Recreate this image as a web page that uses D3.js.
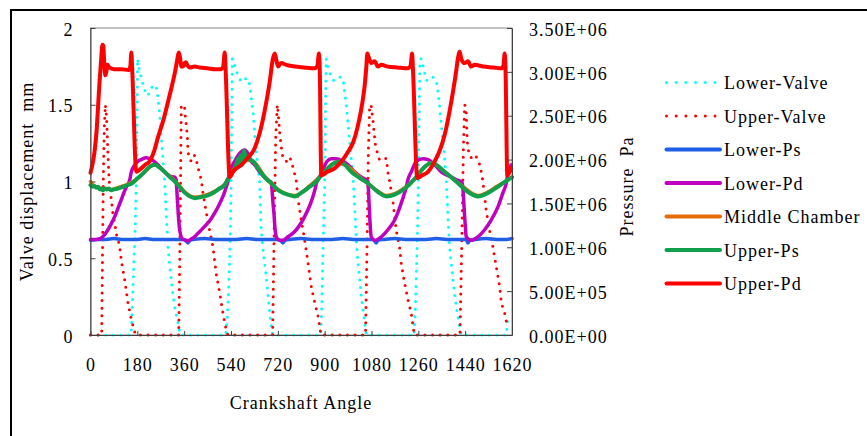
<!DOCTYPE html>
<head>
  <meta charset="utf-8">
  <script src="https://d3js.org/d3.v7.min.js"></script>
  <style>
    body { margin:0; background:#fff; }
    svg text { font-family: "Liberation Serif", "Times New Roman", serif; font-size: 18px; letter-spacing: 1px; fill: #000; }
  </style>
</head>
<body>
<script>
// axis ticks
const xTicks = [0, 180, 360, 540, 720, 900, 1080, 1260, 1440, 1620];
const yLeftTicks = [0, 0.5, 1, 1.5, 2];
const yRightTicks = [0, 5e5, 1e6, 1.5e6, 2e6, 2.5e6, 3e6, 3.5e6];

// valve displacement, mm  [crank angle, value]
const lowerValve = [
  [0,0],[156,0],[160,0.15],[165,0.4],[170,0.62],[174,0.85],[177,1.05],[179,1.45],[181,1.8],[186,1.74],[192,1.7],[202,1.63],[212,1.58],[221,1.56],[234,1.61],[247,1.63],[256,1.6],[262,1.5],[267,1.42],[271,1.32],[275,1.22],[279,1.13],[285,1.0],[291,0.79],[298,0.57],[304,0.46],[310,0.36],[317,0.26],[324,0.18],[336,0.08],[345,0],
  [520,0],[526,0.12],[531,0.3],[535,0.5],[539,0.8],[542,1.3],[545,1.8],[554,1.76],[560,1.72],[570,1.68],[580,1.65],[593,1.67],[605,1.67],[612,1.63],[618,1.54],[625,1.45],[631,1.32],[637,1.19],[644,1.09],[650,1.0],[656,0.68],[662,0.57],[669,0.47],[682,0.27],[689,0.14],[695,0.05],[700,0],
  [885,0],[889,0.2],[892,0.45],[895,0.65],[898,0.85],[901,1.05],[903,1.5],[906,1.8],[913,1.74],[919,1.71],[932,1.66],[945,1.66],[958,1.68],[970,1.67],[977,1.58],[983,1.5],[990,1.37],[996,1.26],[1002,1.15],[1009,1.03],[1015,0.84],[1021,0.64],[1028,0.47],[1041,0.25],[1054,0.08],[1060,0],
  [1244,0],[1248,0.15],[1252,0.38],[1256,0.62],[1259,0.9],[1262,1.3],[1266,1.79],[1271,1.8],[1278,1.75],[1291,1.66],[1304,1.66],[1316,1.68],[1329,1.66],[1336,1.58],[1342,1.48],[1348,1.37],[1355,1.26],[1361,1.15],[1367,1.03],[1373,0.8],[1380,0.57],[1393,0.36],[1406,0.18],[1419,0.05],[1424,0],
  [1598,0],[1601,0.05],[1604,0.13]
];
const upperValve = [
  [0,0],[43,0],[46,0.5],[49,1.0],[53,1.35],[57,1.5],[60,1.45],[63,1.37],[66,1.22],[69,1.1],[72,1.0],[76,0.93],[81,0.87],[86,0.79],[93,0.73],[99,0.66],[112,0.58],[118,0.49],[131,0.36],[144,0.21],[157,0.1],[170,0.02],[176,0],
  [339,0],[343,0.5],[346,1.0],[349,1.5],[358,1.49],[362,1.48],[364,1.43],[368,1.37],[372,1.3],[375,1.19],[381,1.15],[387,1.13],[394,1.15],[400,1.17],[407,1.14],[413,1.09],[426,1.01],[432,0.93],[439,0.86],[452,0.73],[471,0.57],[483,0.4],[497,0.27],[509,0.14],[522,0.03],[528,0],
  [700,0],[706,0.7],[712,1.3],[718,1.5],[720,1.47],[724,1.39],[727,1.32],[732,1.24],[739,1.16],[752,1.13],[765,1.16],[772,1.13],[782,1.07],[791,1.0],[798,0.88],[810,0.75],[823,0.62],[836,0.47],[849,0.31],[862,0.21],[875,0.12],[881,0.05],[886,0],
  [1057,0],[1063,0.6],[1068,1.2],[1073,1.5],[1079,1.49],[1082,1.45],[1086,1.39],[1090,1.32],[1095,1.24],[1102,1.19],[1111,1.14],[1124,1.15],[1137,1.15],[1143,1.06],[1150,1.0],[1163,0.86],[1175,0.68],[1188,0.57],[1194,0.47],[1207,0.34],[1220,0.23],[1233,0.14],[1240,0.05],[1245,0],
  [1420,0],[1427,0.6],[1433,1.2],[1438,1.5],[1443,1.48],[1445,1.41],[1447,1.3],[1450,1.22],[1457,1.17],[1470,1.14],[1483,1.16],[1496,1.11],[1503,1.05],[1508,1.0],[1521,0.81],[1534,0.68],[1547,0.57],[1560,0.44],[1573,0.31],[1579,0.21],[1592,0.14],[1598,0.09],[1605,0.07]
];

// pressures, MPa  [crank angle, value]
const lowerPs = [
  [0,1.08],[30,1.09],[60,1.09],[90,1.1],[120,1.09],[150,1.09],[180,1.09],[210,1.1],[240,1.09],[270,1.09],[300,1.09],[330,1.09],[360,1.09],[368,1.07],[375,1.05],[382,1.08],[400,1.09],[440,1.1],[480,1.09],[520,1.09],[560,1.09],[600,1.1],[640,1.09],[680,1.09],[720,1.09],[733,1.07],[740,1.05],[747,1.08],[770,1.09],[810,1.1],[850,1.09],[890,1.09],[930,1.09],[970,1.1],[1010,1.09],[1050,1.09],[1085,1.09],[1093,1.07],[1098,1.05],[1105,1.08],[1130,1.09],[1170,1.1],[1210,1.09],[1250,1.09],[1290,1.09],[1330,1.1],[1370,1.09],[1410,1.09],[1440,1.09],[1447,1.07],[1451,1.05],[1458,1.08],[1480,1.09],[1520,1.1],[1560,1.09],[1600,1.09],[1620,1.1]
];
const lowerPd = [
  [0,1.09],[20,1.09],[37,1.1],[50,1.13],[67,1.2],[80,1.27],[93,1.35],[105,1.44],[118,1.54],[128,1.62],[138,1.69],[151,1.77],[157,1.86],[170,1.94],[182,1.98],[195,2.0],[214,2.02],[234,2.0],[259,1.94],[272,1.9],[285,1.86],[305,1.81],[324,1.8],[329,1.77],[334,1.54],[339,1.31],[345,1.16],[355,1.09],[365,1.08],[375,1.075],[390,1.1],[400,1.12],[413,1.16],[430,1.21],[452,1.28],[465,1.33],[477,1.39],[490,1.46],[503,1.54],[513,1.61],[522,1.69],[530,1.77],
  [536,1.86],[554,1.98],[573,2.07],[592,2.11],[605,2.07],[618,1.98],[631,1.94],[650,1.86],[669,1.8],[689,1.75],[695,1.74],[698,1.65],[701,1.52],[705,1.39],[709,1.22],[714,1.12],[727,1.08],[740,1.08],[759,1.12],[785,1.18],[810,1.28],[823,1.35],[836,1.43],[846,1.5],[855,1.58],[862,1.65],[868,1.73],
  [877,1.78],[890,1.86],[909,1.98],[926,2.01],[945,2.01],[970,1.98],[990,1.94],[1015,1.86],[1041,1.8],[1060,1.77],[1066,1.75],[1070,1.55],[1074,1.3],[1079,1.12],[1092,1.08],[1118,1.12],[1143,1.2],[1169,1.31],[1182,1.4],[1194,1.5],[1205,1.6],[1214,1.69],[1220,1.77],
  [1233,1.86],[1252,1.98],[1278,2.01],[1297,2.0],[1323,1.94],[1348,1.86],[1387,1.8],[1406,1.77],[1428,1.74],[1432,1.65],[1435,1.5],[1438,1.35],[1441,1.22],[1444,1.12],[1463,1.08],[1489,1.12],[1515,1.2],[1540,1.31],[1566,1.46],[1585,1.62],[1598,1.73],[1605,1.86],[1617,1.94]
];
const middleChamber = [
  [0,1.75],[10,1.71],[20,1.69],[40,1.67],[60,1.67],[80,1.66],[106,1.68],[125,1.7],[144,1.72],[175,1.77],[208,1.86],[247,1.94],[285,1.86],[324,1.76],[363,1.63],[400,1.57],[439,1.59],[477,1.64],[516,1.72],[554,1.9],[590,2.0],[625,1.98],[669,1.81],[721,1.66],[785,1.59],[842,1.7],[887,1.82],[938,1.96],[978,1.94],[1035,1.8],[1105,1.64],[1137,1.59],[1208,1.68],[1246,1.78],[1310,1.96],[1361,1.86],[1420,1.72],[1489,1.59],[1566,1.7],[1620,1.8]
];
const upperPs = [
  [0,1.71],[8,1.69],[15,1.7],[22,1.68],[29,1.69],[36,1.66],[42,1.67],[48,1.65],[55,1.67],[62,1.66],[70,1.67],[80,1.65],[90,1.66],[106,1.67],[125,1.69],[144,1.71],[160,1.73],[175,1.77],[190,1.81],[208,1.86],[228,1.92],[247,1.94],[265,1.91],[285,1.86],[305,1.8],[324,1.75],[345,1.68],[363,1.62],[382,1.58],[400,1.56],[420,1.57],[439,1.58],[458,1.6],[477,1.63],[496,1.67],[516,1.71],
  [528,1.78],[540,1.84],[554,1.9],[562,1.96],[567,2.01],[571,1.92],[577,2.05],[583,1.94],[590,2.1],[596,2.04],[605,2.01],[625,1.98],[644,1.9],[669,1.8],[695,1.73],[721,1.65],[740,1.62],[759,1.6],[785,1.58],[810,1.62],[842,1.69],[868,1.75],
  [887,1.82],[913,1.9],[938,1.96],[958,1.98],[978,1.94],[1002,1.86],[1035,1.79],[1066,1.73],[1105,1.63],[1137,1.58],[1169,1.6],[1208,1.67],[1246,1.78],
  [1278,1.9],[1310,1.96],[1329,1.94],[1361,1.86],[1390,1.79],[1420,1.71],[1451,1.63],[1489,1.58],[1528,1.62],[1566,1.69],[1605,1.77],[1620,1.8]
];
const upperPd = [
  [0,1.85],[8,1.95],[16,2.1],[24,2.35],[29,2.6],[35,2.9],[40,3.1],[46,3.31],[49,3.3],[53,3.1],[57,2.96],[61,3.0],[65,3.08],[72,3.05],[90,3.03],[120,3.03],[145,3.02],[153,3.06],[157,3.22],[160,3.05],[176,1.86],
  [195,1.9],[210,1.94],[227,1.98],[245,2.1],[259,2.25],[280,2.45],[298,2.66],[312,2.83],[325,3.0],[333,3.13],[339,3.22],[343,3.18],[350,3.06],[355,3.06],[362,3.1],[367,3.11],[373,3.07],[382,3.05],[400,3.06],[420,3.05],[450,3.04],[480,3.03],[500,3.03],[510,3.06],[516,3.22],[519,3.05],[535,1.8],
  [550,1.87],[580,1.94],[605,2.02],[631,2.13],[650,2.3],[669,2.55],[689,2.89],[701,3.15],[708,3.21],[714,3.14],[721,3.06],[733,3.1],[752,3.08],[785,3.06],[820,3.05],[862,3.04],[872,3.07],[878,3.21],[881,3.05],[887,1.82],
  [910,1.86],[938,1.9],[965,1.98],[990,2.09],[1010,2.2],[1028,2.39],[1045,2.65],[1054,2.85],[1060,3.05],[1064,3.21],[1070,3.16],[1079,3.1],[1092,3.12],[1105,3.06],[1118,3.08],[1143,3.06],[1180,3.05],[1220,3.04],[1230,3.07],[1236,3.21],[1239,3.05],[1256,1.79],
  [1275,1.82],[1297,1.86],[1323,1.98],[1342,2.1],[1361,2.28],[1380,2.55],[1393,2.77],[1405,3.0],[1412,3.15],[1419,3.23],[1426,3.14],[1438,3.1],[1451,3.12],[1463,3.06],[1476,3.08],[1510,3.06],[1550,3.05],[1579,3.04],[1587,3.07],[1592,3.21],[1595,3.05],[1602,1.82],[1617,1.9]
];

const seriesNames = ['Lower-Valve', 'Upper-Valve', 'Lower-Ps', 'Lower-Pd', 'Middle Chamber', 'Upper-Ps', 'Upper-Pd'];
const seriesData = [lowerValve, upperValve, lowerPs, lowerPd, middleChamber, upperPs, upperPd];
const seriesColors = ['#00FFFF', '#FF0000', '#1F5FE8', '#C000C0', '#E46C0A', '#10A04C', '#FF0000'];
const seriesWidths = [3, 3, 3.5, 3.5, 3.5, 4, 4];
const seriesOnLeft = [true, true, false, false, false, false, false];

const W = 867, H = 436;
const m = {left: 90.5, right: 512, top: 28, bottom: 335};

const x = d3.scaleLinear().domain([0, 1620]).range([m.left, m.right]);
const yL = d3.scaleLinear().domain([0, 2]).range([m.bottom, m.top]);
const yR = d3.scaleLinear().domain([0, 3.5e6]).range([m.bottom, m.top]);

const svg = d3.select('body').append('svg')
    .attr('width', W)
    .attr('height', H);

// outer chart border (runs off the right/bottom edge)
svg.append('rect')
    .attr('x', 11).attr('y', 10)
    .attr('width', 900).attr('height', 500)
    .attr('fill', 'none')
    .attr('stroke', '#000')
    .attr('stroke-width', 2);

// plot area frame
svg.append('rect')
    .attr('x', m.left).attr('y', m.top)
    .attr('width', m.right - m.left).attr('height', m.bottom - m.top)
    .attr('fill', 'none')
    .attr('stroke', '#868686');

const lineL = d3.line().x(d => x(d[0])).y(d => yL(d[1]));
const lineR = d3.line().curve(d3.curveMonotoneX).x(d => x(d[0])).y(d => yR(d[1] * 1e6));

seriesData.forEach((data, i) => {
  const p = svg.append('path')
      .attr('d', seriesOnLeft[i] ? lineL(data) : lineR(data))
      .attr('fill', 'none')
      .attr('stroke', seriesColors[i])
      .attr('stroke-width', seriesWidths[i])
      .attr('stroke-linejoin', 'round')
      .attr('stroke-linecap', 'round');
  if (seriesOnLeft[i]) p.attr('stroke-dasharray', '0 7.6');
});

// E-notation like the spreadsheet: 3.50E+06
const sci = v => {
  const parts = d3.format('.2e')(v).split('e');
  const n = +parts[1];
  return parts[0] + 'E' + (n < 0 ? '-' : '+') + String(Math.abs(n)).padStart(2, '0');
};

svg.append('g')
    .attr('transform', `translate(0,${m.bottom})`)
    .attr('color', '#404040')
    .call(d3.axisBottom(x).tickValues(xTicks).tickSizeInner(-4).tickSizeOuter(0).tickPadding(23).tickFormat(d => String(d)));

svg.append('g')
    .attr('transform', `translate(${m.left},0)`)
    .attr('color', '#404040')
    .call(d3.axisLeft(yL).tickValues(yLeftTicks).tickSizeInner(-5).tickSizeOuter(0).tickPadding(17).tickFormat(d => String(d)))
    .selectAll('text').attr('dy', '0.4em');

svg.append('g')
    .attr('transform', `translate(${m.right},0)`)
    .attr('color', '#404040')
    .call(d3.axisRight(yR).tickValues(yRightTicks).tickSizeInner(-5).tickSizeOuter(0).tickPadding(17).tickFormat(sci))
    .selectAll('text').attr('dy', '0.4em');

// axis titles
svg.append('text')
    .attr('x', 301).attr('y', 409)
    .attr('text-anchor', 'middle')
    .text('Crankshaft Angle');

svg.append('text')
    .attr('transform', 'translate(33,181.5) rotate(-90)')
    .attr('text-anchor', 'middle')
    .style('white-space', 'pre')
    .text('Valve displacement  mm');

svg.append('text')
    .attr('transform', 'translate(633,186.5) rotate(-90)')
    .attr('text-anchor', 'middle')
    .style('white-space', 'pre')
    .text('Pressure  Pa');

// legend
const legend = svg.append('g');
seriesNames.forEach((name, i) => {
  const ly = 82.5 + i * 33.5;
  const l = legend.append('line')
      .attr('x1', 666.5).attr('x2', seriesOnLeft[i] ? 715 : 720)
      .attr('y1', ly).attr('y2', ly)
      .attr('stroke', seriesColors[i])
      .attr('stroke-width', seriesOnLeft[i] ? 3 : 4)
      .attr('stroke-linecap', 'round');
  if (seriesOnLeft[i]) l.attr('stroke-dasharray', '0 9.7');
  legend.append('text')
      .attr('x', 724).attr('y', ly + 6.5)
      .text(name);
});
</script>
</body>
